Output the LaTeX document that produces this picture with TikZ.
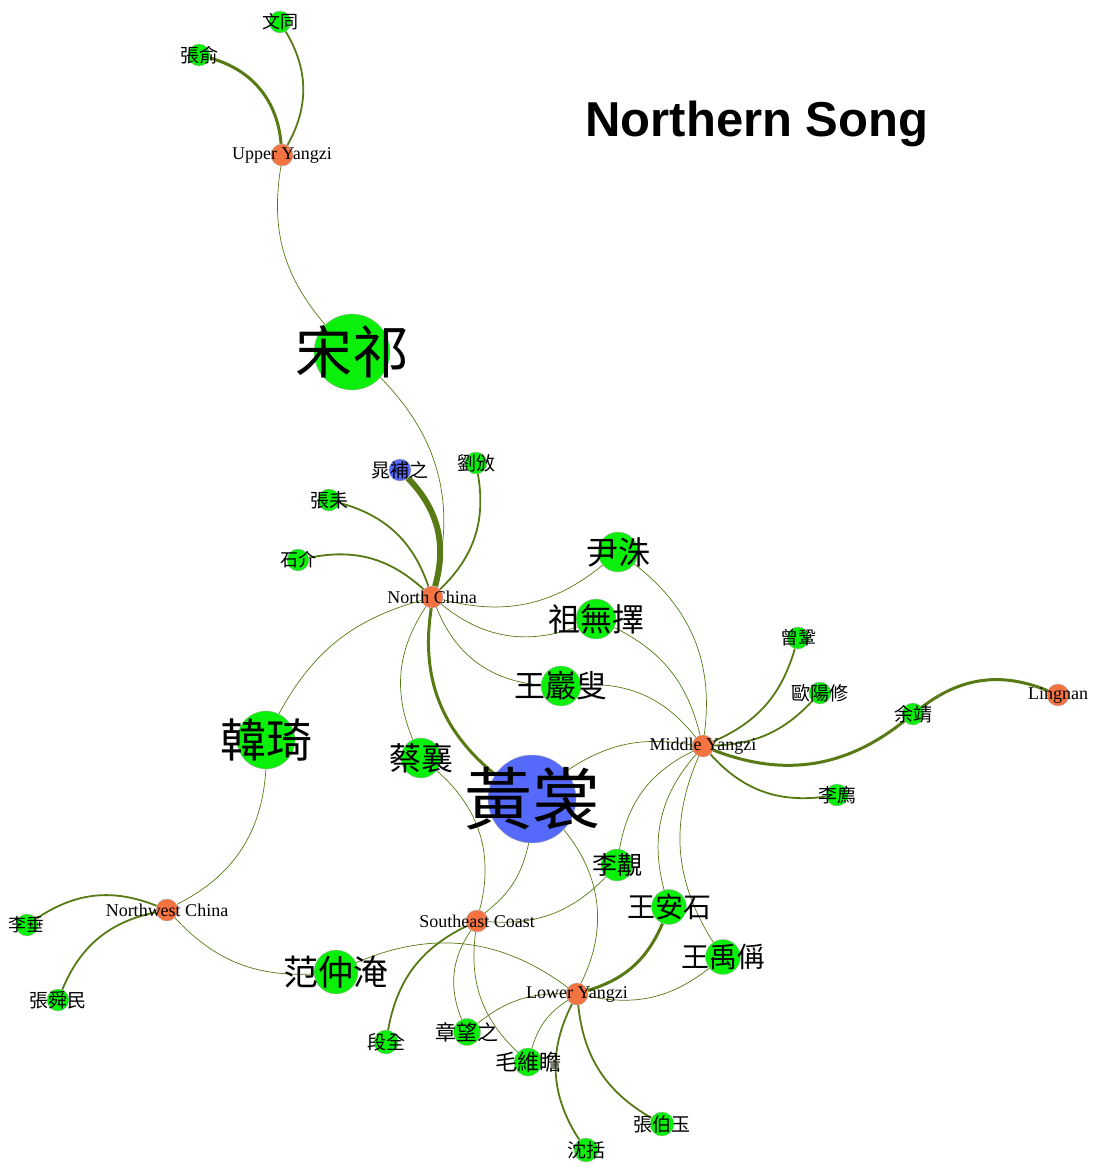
\documentclass[tikz,border=0pt]{standalone}
\usepackage{fontspec}
\setmainfont{Liberation Serif}
\newfontfamily\cjk{Noto Sans CJK TC}
\newfontfamily\titlefont{Liberation Sans}
\usetikzlibrary{backgrounds}
\definecolor{pgreen}{RGB}{10,240,10}
\definecolor{porange}{RGB}{245,115,65}
\definecolor{pblue}{RGB}{85,105,250}
\definecolor{edgec}{RGB}{88,122,20}
\newcommand{\zh}[1]{\cjk\fontsize{#1}{#1}\selectfont}

\begin{document}
\begin{tikzpicture}[
    x=1pt, y=1pt,
    person/.style={circle, draw=black!30, line width=0.4pt, fill=pgreen,
      inner sep=0pt, minimum size=#1},
    person/.default=22pt,
    poet/.style={person=#1, fill=pblue},
    region/.style={person=22pt, fill=porange,
      label={[font=\fontsize{18}{18}\selectfont]center:#1}},
    link/.style={draw=edgec, line width=0.7pt},
    midlink/.style={link, line width=1.8pt},
    heavylink/.style={link, line width=3pt},
    hugelink/.style={link, line width=6pt}
  ]
  \useasboundingbox (0,0) rectangle (1094,-1167);
  \node[font=\titlefont\bfseries\fontsize{49}{49}\selectfont] (title) at (757,-124) {Northern Song};

  % regions
  \node[region=Upper Yangzi] (uy) at (282,-155) {};
  \node[region=North China] (nc) at (432,-597) {};
  \node[region=Middle Yangzi] (my) at (703,-746) {};
  \node[region=Lingnan] (ln) at (1058,-695) {};
  \node[region=Northwest China] (nw) at (167,-910) {};
  \node[region=Southeast Coast] (se) at (477,-921) {};
  \node[region=Lower Yangzi] (ly) at (577,-994) {};

  % people
  \node[person, label={[font=\zh{18}]center:文同}] (wt) at (280,-22) {};
  \node[person, label={[font=\zh{19}]center:張俞}] (zy) at (199,-55) {};
  \node[person=76pt, label={[font=\zh{57}]center:宋祁}] (sq) at (352,-352) {};
  \node[poet=22pt, label={[font=\zh{19}]center:晁補之}] (cbz) at (400,-470) {};
  \node[person, label={[font=\zh{19}]center:劉攽}] (lb) at (476,-463) {};
  \node[person, label={[font=\zh{19}]center:張耒}] (zl) at (329,-500) {};
  \node[person, label={[font=\zh{18}]center:石介}] (sj) at (298,-560) {};
  \node[person=40pt, label={[font=\zh{32}]center:尹洙}] (yz) at (618,-552) {};
  \node[person=40pt, label={[font=\zh{32}]center:祖無擇}] (zwz) at (596,-619) {};
  \node[person=40pt, label={[font=\zh{31}]center:王巖叟}] (wys) at (561,-686) {};
  \node[person=58pt, label={[font=\zh{46}]center:韓琦}] (hq) at (266,-740) {};
  \node[person=40pt, label={[font=\zh{32}]center:蔡襄}] (cx) at (421,-758) {};
  \node[poet=88pt, label={[font=\zh{68}]center:黃裳}] (hs) at (532,-799) {};
  \node[person, label={[font=\zh{18}]center:曾鞏}] (zg) at (798,-638) {};
  \node[person, label={[font=\zh{19}]center:歐陽修}] (oyx) at (820,-693) {};
  \node[person, label={[font=\zh{19}]center:余靖}] (yj) at (913,-714) {};
  \node[person, label={[font=\zh{19}]center:李廌}] (lz) at (837,-795) {};
  \node[person=32pt, label={[font=\zh{25}]center:李覯}] (lg) at (617,-865) {};
  \node[person=35pt, label={[font=\zh{28}]center:王安石}] (was) at (669,-907) {};
  \node[person=35pt, label={[font=\zh{28}]center:王禹偁}] (wyc) at (723,-957) {};
  \node[person, label={[font=\zh{18}]center:李垂}] (lc) at (27,-925) {};
  \node[person, label={[font=\zh{19}]center:張舜民}] (zsm) at (58,-1000) {};
  \node[person=44pt, label={[font=\zh{35}]center:范仲淹}] (fzy) at (336,-972) {};
  \node[person=24pt, label={[font=\zh{19}]center:段全}] (dq) at (386,-1042) {};
  \node[person=27pt, label={[font=\zh{21}]center:章望之}] (zwzh) at (467,-1032) {};
  \node[person=28pt, label={[font=\zh{22}]center:毛維瞻}] (mwz) at (528,-1062) {};
  \node[person=24pt, label={[font=\zh{19}]center:張伯玉}] (zby) at (662,-1124) {};
  \node[person=24pt, label={[font=\zh{19}]center:沈括}] (sk) at (586,-1150) {};

  % links
  \begin{pgfonlayer}{background}
    \fill[white] (0,0) rectangle (1094,-1167);
    \draw[midlink] (uy) to[bend right=30] (wt);
    \draw[heavylink] (zy) to[bend left=35] (uy);
    \draw[link] (uy) to[bend right=25] (sq);
    \draw[link] (sq) to[bend left=30] (nc);
    \draw[hugelink] (cbz) to[bend left=30] (nc);
    \draw[midlink] (lb) to[bend left=28] (nc);
    \draw[midlink] (zl) to[bend left=28] (nc);
    \draw[midlink] (sj) to[bend left=27] (nc);
    \draw[link] (nc) to[bend right=27] (yz);
    \draw[link] (nc) to[bend right=30] (zwz);
    \draw[link] (nc) to[bend right=32] (wys);
    \draw[link] (nc) to[bend right=23] (hq);
    \draw[link] (nc) to[bend right=28] (cx);
    \draw[heavylink] (nc) to[bend right=30] (hs);
    \draw[link] (hq) to[bend left=30] (nw);
    \draw[midlink] (nw) to[bend right=28] (lc);
    \draw[midlink] (nw) to[bend right=28] (zsm);
    \draw[link] (nw) to[bend right=25] (fzy);
    \draw[link] (yz) to[bend left=30] (my);
    \draw[link] (zwz) to[bend left=25] (my);
    \draw[link] (wys) to[bend left=27] (my);
    \draw[link] (hs) to[bend left=22] (my);
    \draw[midlink] (my) to[bend right=25] (zg);
    \draw[midlink] (my) to[bend right=22] (oyx);
    \draw[heavylink] (my) to[bend right=30] (yj);
    \draw[heavylink] (yj) to[bend left=30] (ln);
    \draw[midlink] (my) to[bend right=28] (lz);
    \draw[link] (my) to[bend right=27] (lg);
    \draw[link] (my) to[bend right=28] (was);
    \draw[link] (my) to[bend right=28] (wyc);
    \draw[link] (cx) to[bend left=32] (se);
    \draw[link] (hs) to[bend left=20] (se);
    \draw[link] (hs) to[bend left=33] (ly);
    \draw[link] (lg) to[bend left=25] (se);
    \draw[heavylink] (was) to[bend left=25] (ly);
    \draw[link] (wyc) to[bend left=25] (ly);
    \draw[midlink] (se) to[bend right=27] (dq);
    \draw[link] (se) to[bend right=28] (zwzh);
    \draw[link] (se) to[bend right=27] (mwz);
    \draw[link] (fzy) to[bend left=30] (ly);
    \draw[link] (ly) to[bend right=20] (zwzh);
    \draw[link] (ly) to[bend right=20] (mwz);
    \draw[midlink] (ly) to[bend right=27] (zby);
    \draw[midlink] (ly) to[bend right=30] (sk);
  \end{pgfonlayer}
\end{tikzpicture}
\end{document}
